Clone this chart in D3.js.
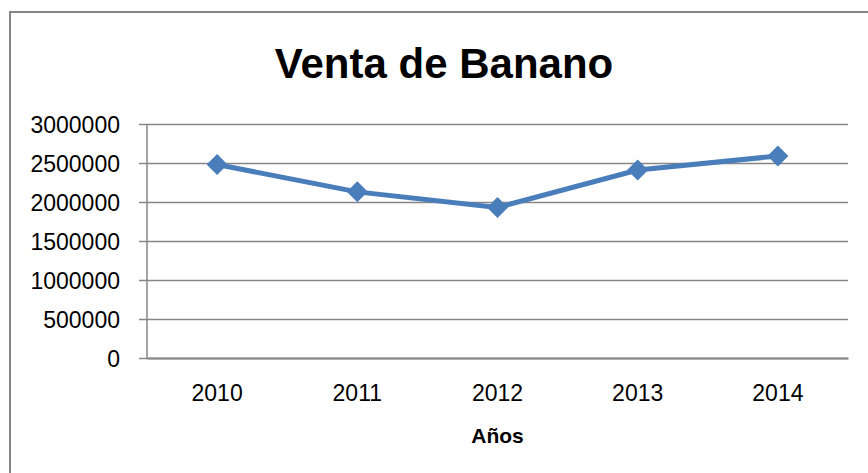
<!DOCTYPE html>
<html>
<head>
<meta charset="utf-8">
<script src="https://cdn.jsdelivr.net/npm/d3@7"></script>
<style>
  body { margin: 0; background: #fff; }
  text { font-family: "Liberation Sans", Arial, sans-serif; fill: #000; }
</style>
</head>
<body>
<div id="chart"></div>
<script type="text/javascript">
// chart data
var years = ["2010", "2011", "2012", "2013", "2014"];
var ventas = [2480000, 2130000, 1930000, 2410000, 2590000];
var yTicks = [0, 500000, 1000000, 1500000, 2000000, 2500000, 3000000];
var chartTitle = "Venta de Banano";
var xTitle = "Años";

var W = 868, H = 473;
var margin = {top: 124, right: 20, bottom: 115, left: 147},
    width = 848 - margin.left,
    height = 358 - margin.top;

var svg = d3.select("#chart").append("svg")
    .attr("width", W)
    .attr("height", H);

// outer frame of the chart
svg.append("rect")
    .attr("x", 10).attr("y", 12)
    .attr("width", W + 10).attr("height", H + 10)
    .attr("fill", "#fff")
    .attr("stroke", "#868686")
    .attr("stroke-width", 2);

// title
svg.append("text")
    .attr("x", 444).attr("y", 78)
    .attr("text-anchor", "middle")
    .style("font-size", "42px")
    .style("font-weight", "bold")
    .text(chartTitle);

var g = svg.append("g")
    .attr("transform", "translate(" + margin.left + "," + margin.top + ")");

// set the ranges
var x = d3.scaleBand().domain(years).range([0, width]);
var y = d3.scaleLinear().domain([0, 3000000]).range([height, 0]);

// gridlines + y axis
var yAxis = g.append("g")
    .call(d3.axisLeft(y).tickValues(yTicks).tickFormat(d3.format("d"))
      .tickSize(-width).tickPadding(27));
yAxis.select(".domain").remove();
yAxis.selectAll(".tick line")
    .attr("x1", -8)
    .attr("stroke", "#868686")
    .attr("stroke-width", 1.5);
yAxis.selectAll(".tick text")
    .style("font-size", "23px")
    .attr("dy", "0.36em");

g.append("line")
    .attr("x1", 0).attr("x2", 0)
    .attr("y1", 0).attr("y2", height)
    .attr("stroke", "#868686")
    .attr("stroke-width", 1.5);

// x axis
var xAxis = g.append("g")
    .attr("transform", "translate(0," + height + ")")
    .call(d3.axisBottom(x).tickSize(0).tickPadding(27));
xAxis.select(".domain")
    .attr("stroke", "#868686")
    .attr("stroke-width", 2);
xAxis.selectAll(".tick text")
    .style("font-size", "23px");

// x title
svg.append("text")
    .attr("x", margin.left + width / 2).attr("y", 443)
    .attr("text-anchor", "middle")
    .style("font-size", "21px")
    .style("font-weight", "bold")
    .text(xTitle);

// the line
var valueline = d3.line()
    .x(function(d, i) { return x(years[i]) + x.bandwidth() / 2; })
    .y(function(d) { return y(d); });

g.append("path")
    .datum(ventas)
    .attr("fill", "none")
    .attr("stroke", "#4a7ebb")
    .attr("stroke-width", 5)
    .attr("stroke-linejoin", "round")
    .attr("d", valueline);

// diamond markers
g.selectAll(".marker")
    .data(ventas)
  .enter().append("path")
    .attr("class", "marker")
    .attr("d", d3.symbol().type(d3.symbolSquare).size(220))
    .attr("fill", "#4a7ebb")
    .attr("transform", function(d, i) {
      return "translate(" + (x(years[i]) + x.bandwidth() / 2) + "," + y(d) + ") rotate(45)";
    });
</script>
</body>
</html>
